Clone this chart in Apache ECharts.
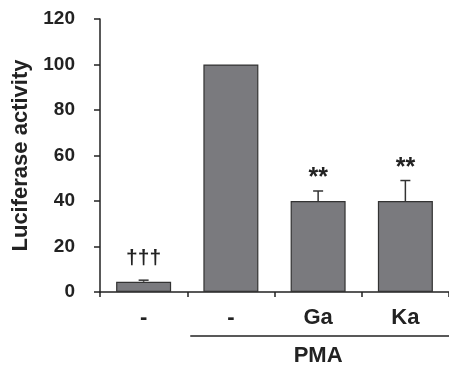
<!DOCTYPE html>
<html><head><meta charset="utf-8">
<script src="https://cdn.jsdelivr.net/npm/echarts@6/dist/echarts.min.js"></script>
<style>html,body{margin:0;padding:0;background:#fff;}#c{width:449px;height:369px;}</style>
</head><body><div id="c"></div>
<script>
const categories = ['-', '-', 'Ga', 'Ka'];
const values = [4.5, 100, 40, 40];
const errors = [0.7, 0, 4.4, 9];
const marks = ['†††', '', '**', '**'];
const yTicks = [0, 20, 40, 60, 80, 100, 120];
const groupLabel = 'PMA';

const chart = echarts.init(document.getElementById('c'));
const font = 'Liberation Sans, Arial, sans-serif';
chart.setOption({
  animation: false,
  grid: { left: 100, right: -6, top: 19, bottom: 77 },
  xAxis: {
    type: 'category', data: categories,
    axisLine: { lineStyle: { color: '#222', width: 1.5 } },
    axisTick: { show: true, length: 5, lineStyle: { color: '#222', width: 1.5 } },
    axisLabel: { color: '#222', fontSize: 22, fontWeight: 'bold', fontFamily: font, margin: 15 }
  },
  yAxis: {
    type: 'value', min: yTicks[0], max: yTicks[yTicks.length - 1], interval: 20,
    name: 'Luciferase activity', nameLocation: 'middle', nameGap: 67,
    nameTextStyle: { color: '#222', fontSize: 22, fontWeight: 'bold', fontFamily: font },
    splitLine: { show: false },
    axisLine: { show: true, lineStyle: { color: '#222', width: 1.5 } },
    axisTick: { show: true, length: 6, lineStyle: { color: '#222', width: 1.5 } },
    axisLabel: { color: '#222', fontSize: 19, fontWeight: 'bold', fontFamily: font, margin: 25 }
  },
  series: [
    {
      type: 'bar', data: values, barWidth: 55,
      itemStyle: { color: '#7a7a7e', borderColor: '#333', borderWidth: 1.2 }
    },
    {
      type: 'custom',
      data: values.map((v, i) => [i, v, errors[i]]),
      renderItem: function (params, api) {
        const i = api.value(0), v = api.value(1), e = api.value(2);
        const base = api.coord([i, v]);
        const top = api.coord([i, v + e]);
        const children = [];
        if (e > 0) {
          children.push({ type: 'line', shape: { x1: base[0], y1: base[1], x2: top[0], y2: top[1] }, style: { stroke: '#333', lineWidth: 1.5 } });
          children.push({ type: 'line', shape: { x1: top[0] - 5, y1: top[1], x2: top[0] + 5, y2: top[1] }, style: { stroke: '#333', lineWidth: 1.5 } });
        }
        const m = marks[i];
        if (m) {
          const isStar = m.indexOf('*') >= 0;
          children.push({ type: 'text', style: { text: m, x: top[0], y: top[1] - (isStar ? 0 : 11), align: 'center', verticalAlign: 'bottom', fill: '#222', font: 'bold ' + (isStar ? 25 : 21) + 'px ' + font } });
        }
        return { type: 'group', children: children };
      },
      z: 5
    }
  ]
});

function drawGroup() {
  const left = chart.convertToPixel({ xAxisIndex: 0 }, 1);
  const right = chart.convertToPixel({ xAxisIndex: 0 }, 3);
  const half = (right - left) / 4;
  const x1 = left - half + 3, x2 = right + half;
  const y = chart.convertToPixel({ yAxisIndex: 0 }, 0) + 44;
  chart.setOption({
    graphic: [
      { type: 'line', shape: { x1: x1, y1: y, x2: x2, y2: y }, style: { stroke: '#222', lineWidth: 1.5 } },
      { type: 'text', style: { text: groupLabel, x: (left - half + x2) / 2, y: y + 20, align: 'center', verticalAlign: 'middle', fill: '#222', font: 'bold 22px ' + font } }
    ]
  });
}
drawGroup();
</script></body></html>
